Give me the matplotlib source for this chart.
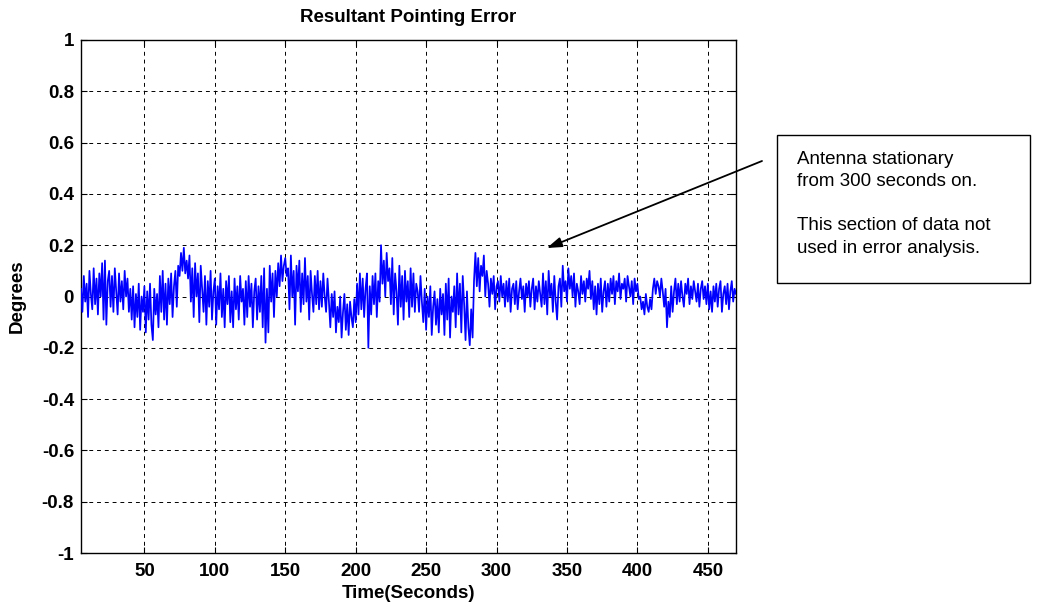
import numpy as np
import matplotlib
matplotlib.use("Agg")
import matplotlib.pyplot as plt
from matplotlib.patches import Rectangle

# Pointing error, one sample per second from t = 5 s,
# in hundredths of a degree
T_START = 5
error_centideg = [
    3, -6, 8, -2, 5, -8, 10, 1, -5, 11,
    -3, 7, -7, 9, 0, 13, -9, 14, -11, 6,
    10, -4, 8, -6, 11, 2, -7, 9, -2, 6,
    -5, 10, 0, 7, -6, 3, -9, 4, -12, 1,
    -8, 5, -13, 0, -6, 4, -14, 2, -9, 5,
    -11, -17, 3, -7, 1, -12, 8, -6, 10, -9,
    5, -11, 7, -3, 9, -8, 4, 10, -4, 12,
    8, 17, 10, 19, 9, 14, 7, 16, -2, 11,
    -8, 13, 0, 9, -10, 12, 3, -6, 8, -11,
    6, -4, 10, -9, 2, 7, -11, 4, -5, 9,
    -8, 3, -12, 6, -3, 8, -10, 2, -12, 7,
    -5, 4, -9, 8, -2, 3, -11, 6, -8, 8,
    -4, 5, -12, 2, 7, -9, 4, -6, 8, -12,
    11, -18, 3, -14, 12, -2, 9, -8, 10, 0,
    13, 4, 16, 6, 12, 15, 8, 11, -5, 16,
    0, 10, -11, 12, 2, 14, -6, 9, -3, 15,
    -2, 8, -9, 10, 1, -6, 8, -3, 10, -5,
    6, -4, 9, 0, -6, 7, -2, -12, 1, -8,
    2, -14, -4, -10, 0, -16, -6, 1, -13, -3,
    -15, -2, -8, -12, -1, -10, 5, -7, 9, -5,
    7, -8, 3, 9, -20, 4, -7, 8, -3, 9,
    -8, 6, -2, 20, 5, 14, 0, 17, 6, 11,
    -3, 15, -7, 9, 2, -11, 12, -4, 8, -9,
    10, -2, 6, -8, 11, -4, 9, -6, 5, 2,
    -6, 8, -2, -10, 3, -13, 0, -8, 4, -15,
    -4, 2, -11, -1, -14, 3, -7, 1, -15, 5,
    -9, 7, -16, 0, -6, 4, -12, 9, -7, 5,
    -14, 8, -3, -17, 2, -12, -19, -5, -16, 6,
    17, 4, 15, 2, 12, 8, 16, 0, 10, 5,
    -4, 7, 1, 8, -5, 4, 6, -2, 8, 0,
    5, -4, 6, -2, 7, -6, 3, 5, -3, 6,
    -5, 2, 7, -1, 4, -6, 5, 0, 6, -4,
    3, 7, -5, 4, -2, 6, 1, -4, 9, -3,
    6, -7, 10, 0, 5, -6, 8, -2, -9, 4,
    7, -4, 12, 2, 6, -2, 11, 3, 8, 0,
    9, -4, 5, 2, -3, 8, 1, 6, -2, 7,
    3, 10, -1, 6, -5, 4, -7, 5, -3, 7,
    -6, 2, 6, -4, 5, -2, 7, 1, 8, -3,
    6, 2, 9, -1, 5, 3, 7, -2, 8, 4,
    0, 6, -3, 7, 2, 5, -1, 0, -5, -2,
    -7, 1, -4, -6, -1, -5, 3, 7, 1, 6,
    4, 0, 7, 2, -4, 3, -12, -2, -8, 4,
    -6, 2, 7, -3, 5, -2, 6, 0, -4, 5,
    1, 7, -3, 4, -1, 6, 2, -2, 5, -4,
    3, 6, -1, 4, -3, 5, -5, 2, -6, 4,
    -2, 5, -4, 3, 6, -6, 1, 4, -3, 5,
    -5, 2, 6, -2, 3, 1,
]

x_ticks = [50, 100, 150, 200, 250, 300, 350, 400, 450]
y_ticks = [-1, -0.8, -0.6, -0.4, -0.2, 0, 0.2, 0.4, 0.6, 0.8, 1]
y_tick_labels = ["-1", "-0.8", "-0.6", "-0.4", "-0.2", "0",
                 "0.2", "0.4", "0.6", "0.8", "1"]

note_lines = ["Antenna stationary", "from 300 seconds on.", "",
              "This section of data not", "used in error analysis."]

plt.rcParams['font.family'] = ['Liberation Sans', 'DejaVu Sans']


def main():
    err = np.array(error_centideg) / 100.0
    t = np.arange(T_START, T_START + len(err))

    W, H = 1039, 605
    fig = plt.figure(figsize=(W / 100, H / 100), dpi=100)
    ax = fig.add_axes([81 / W, 1 - 553 / H, (736 - 81) / W, (553 - 40) / H])

    ax.plot(t, err, color='#0000ff', lw=1.25, zorder=3)

    ax.set_xlim(T_START, t[-1])
    ax.set_ylim(-1, 1)
    ax.set_xticks(x_ticks)
    ax.set_xticklabels([str(v) for v in x_ticks])
    ax.set_yticks(y_ticks)
    ax.set_yticklabels(y_tick_labels)
    ax.tick_params(direction='in', length=4, width=0.8, top=True, right=True,
                   labelsize=13.5)
    ax.tick_params(axis='x', pad=7)
    ax.tick_params(axis='y', pad=5)
    for lab in ax.get_xticklabels() + ax.get_yticklabels():
        lab.set_fontweight('bold')

    ax.grid(True, color='black', linestyle=(0, (4, 4)), linewidth=0.7)
    ax.set_axisbelow(True)
    for sp in ax.spines.values():
        sp.set_linewidth(1.0)

    fig.text(408 / W, 1 - 17 / H, "Resultant Pointing Error", fontsize=13.5,
             fontweight='bold', ha='center', va='center')
    ax.set_xlabel("Time(Seconds)", fontsize=13.5, fontweight='bold')
    ax.xaxis.set_label_coords(0.5, -(593 - 553) / 513)
    ax.xaxis.label.set_va('center')
    ax.set_ylabel("Degrees", fontsize=13.5, fontweight='bold')
    ax.yaxis.set_label_coords((17 - 81) / 655, 0.5)
    ax.yaxis.label.set_va('center')

    # note box on the right
    box = Rectangle((777 / W, 1 - 283 / H), (1030 - 777) / W, (283 - 135) / H,
                    transform=fig.transFigure, fill=False, edgecolor='black',
                    lw=1.0)
    fig.patches.append(box)
    for i, line in enumerate(note_lines):
        fig.text(797 / W, 1 - (159 + 22.3 * i) / H, line, fontsize=13.5,
                 va='center', ha='left')

    ax.annotate("", xy=(335.7, 0.189), xycoords='data',
                xytext=(762 / W, 1 - 161 / H), textcoords='figure fraction',
                arrowprops=dict(arrowstyle='-|>,head_length=0.9,head_width=0.3',
                                color='black', lw=1.3, shrinkA=0, shrinkB=0),
                annotation_clip=False)

    fig.savefig("out.png", dpi=100)


if __name__ == '__main__':
    main()
